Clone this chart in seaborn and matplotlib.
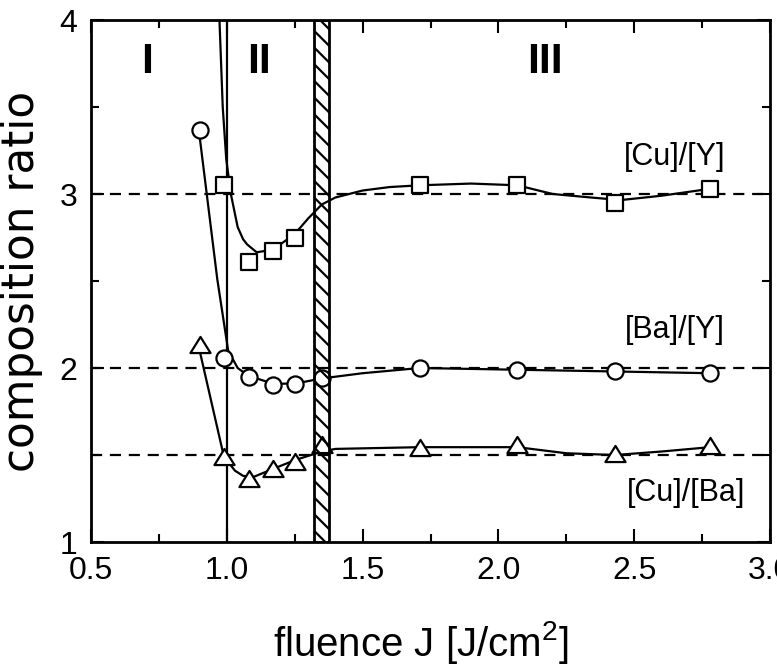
import numpy as np
import pandas as pd
import matplotlib
matplotlib.use("Agg")
import matplotlib.pyplot as plt
from matplotlib.ticker import MultipleLocator, FormatStrFormatter
from matplotlib.markers import MarkerStyle
from matplotlib.path import Path
import seaborn as sns

# ---------------- data ----------------
# measured points
cuy_x = [0.99, 1.08, 1.17, 1.25, 1.71, 2.07, 2.43, 2.78]
cuy_y = [3.05, 2.61, 2.67, 2.75, 3.05, 3.05, 2.95, 3.03]

bay_x = [0.90, 0.99, 1.08, 1.17, 1.25, 1.35, 1.71, 2.07, 2.43, 2.78]
bay_y = [3.37, 2.06, 1.95, 1.90, 1.91, 1.94, 2.00, 1.99, 1.98, 1.97]

cuba_x = [0.90, 0.99, 1.08, 1.17, 1.25, 1.35, 1.71, 2.07, 2.43, 2.78]
cuba_y = [2.13, 1.49, 1.36, 1.42, 1.46, 1.56, 1.54, 1.555, 1.505, 1.55]

# guide curves drawn through the data
cuy_fit_x = [0.973, 0.985, 0.998, 1.015, 1.04, 1.06, 1.075, 1.11, 1.17, 1.25,
             1.30, 1.35, 1.40, 1.50, 1.60, 1.71, 1.90, 2.07, 2.20, 2.34, 2.45,
             2.60, 2.78]
cuy_fit_y = [4.0, 3.5, 3.2, 3.0, 2.81, 2.74, 2.71, 2.665, 2.68, 2.77,
             2.86, 2.94, 2.98, 3.02, 3.04, 3.05, 3.06, 3.05, 3.0, 2.98, 2.965,
             2.99, 3.03]

bay_fit_x = [0.90, 0.965, 1.005, 1.04, 1.08, 1.17, 1.25, 1.35, 1.50, 1.71,
             2.07, 2.43, 2.78]
bay_fit_y = [3.33, 2.51, 2.10, 2.00, 1.955, 1.91, 1.91, 1.94, 1.97, 2.00,
             1.99, 1.98, 1.97]

cuba_fit_x = [0.90, 0.985, 1.0, 1.03, 1.06, 1.10, 1.17, 1.25, 1.35, 1.40,
              1.71, 2.07, 2.25, 2.43, 2.60, 2.78]
cuba_fit_y = [2.10, 1.52, 1.47, 1.41, 1.38, 1.375, 1.42, 1.47, 1.52, 1.535,
              1.545, 1.545, 1.51, 1.50, 1.52, 1.545]

ref_levels = [3.0, 2.0, 1.5]
region_boundary = 1.0
threshold_band = (1.321, 1.376)

region_labels = ["I", "II", "III"]
region_label_x = [0.707, 1.12, 2.17]
region_label_y = 3.76

ratio_labels = ["[Cu]/[Y]", "[Ba]/[Y]", "[Cu]/[Ba]"]
ratio_label_x = [2.65, 2.65, 2.69]
ratio_label_y = [3.21, 2.22, 1.28]

xticks = [0.5, 1.0, 1.5, 2.0, 2.5, 3.0]
yticks = [1, 2, 3, 4]

# ---------------- styling ----------------
sns.set_style("ticks")
plt.rcParams["font.family"] = ["Liberation Sans", "DejaVu Sans"]
plt.rcParams["mathtext.fontset"] = "custom"
plt.rcParams["mathtext.rm"] = "Liberation Sans"
plt.rcParams["mathtext.it"] = "Liberation Sans:italic"
plt.rcParams["mathtext.bf"] = "Liberation Sans:bold"
plt.rcParams["mathtext.default"] = "regular"
plt.rcParams["hatch.linewidth"] = 1.6
for key in ["text.color", "axes.labelcolor", "xtick.color", "ytick.color",
            "axes.edgecolor", "xtick.labelcolor", "ytick.labelcolor"]:
    plt.rcParams[key] = "black"

fig = plt.figure(figsize=(7.77, 6.70), dpi=100)
ax = fig.add_axes([91 / 777, 1 - 542 / 670, (770 - 91) / 777, (542 - 20) / 670])

df_fit = pd.concat([
    pd.DataFrame({"x": cuy_fit_x, "y": cuy_fit_y, "s": "cuy"}),
    pd.DataFrame({"x": bay_fit_x, "y": bay_fit_y, "s": "bay"}),
    pd.DataFrame({"x": cuba_fit_x, "y": cuba_fit_y, "s": "cuba"}),
])

for lv in ref_levels:
    ax.axhline(lv, color="black", lw=1.6, ls=(0, (5, 3.5)), zorder=1)

ax.axvline(region_boundary, color="black", lw=1.6, zorder=2)

for name in ["cuy", "bay", "cuba"]:
    sns.lineplot(data=df_fit[df_fit["s"] == name], x="x", y="y",
                 estimator=None, sort=False, color="black", lw=1.6,
                 ax=ax, zorder=2)

tri = MarkerStyle(Path([(-1.0, -0.75), (1.0, -0.75), (0.0, 0.85), (-1.0, -0.75)],
                       [Path.MOVETO, Path.LINETO, Path.LINETO, Path.CLOSEPOLY]))

sns.scatterplot(x=cuy_x, y=cuy_y, marker="s", s=118, color="white",
                edgecolor="black", linewidth=1.6, ax=ax, zorder=3)
sns.scatterplot(x=bay_x, y=bay_y, marker="o", s=135, color="white",
                edgecolor="black", linewidth=1.6, ax=ax, zorder=3)
sns.scatterplot(x=cuba_x, y=cuba_y, marker=tri, s=210, color="white",
                edgecolor="black", linewidth=1.6, ax=ax, zorder=3)

ax.axvspan(threshold_band[0], threshold_band[1], facecolor="none",
           edgecolor="black", hatch="\\\\", linewidth=2.0, zorder=4)

for lab, lx in zip(region_labels, region_label_x):
    ax.text(lx, region_label_y, lab, ha="center", va="center",
            fontsize=31, fontweight="bold")

for lab, lx, ly in zip(ratio_labels, ratio_label_x, ratio_label_y):
    ax.text(lx, ly, lab, ha="center", va="center", fontsize=22)

ax.set_xlim(0.5, 3.0)
ax.set_ylim(1, 4)
ax.set_xticks(xticks)
ax.set_yticks(yticks)
ax.xaxis.set_major_formatter(FormatStrFormatter("%.1f"))
ax.yaxis.set_major_formatter(FormatStrFormatter("%d"))
ax.xaxis.set_minor_locator(MultipleLocator(0.25))
ax.yaxis.set_minor_locator(MultipleLocator(0.5))
ax.tick_params(which="both", direction="in", top=True, right=True,
               width=1.5, color="black")
ax.tick_params(which="major", length=9.5)
ax.tick_params(which="minor", length=5.5)
ax.tick_params(axis="x", which="major", labelsize=23, pad=10)
ax.tick_params(axis="y", which="major", labelsize=23, pad=10)
for sp in ax.spines.values():
    sp.set_linewidth(2.0)
    sp.set_color("black")
    sp.set_zorder(5)

ax.set_xlabel("fluence J [J/cm$^2$]", fontsize=29)
ax.set_ylabel("composition ratio", fontsize=31.5, family=["DejaVu Sans"])
ax.xaxis.set_label_coords(0.486, -0.148)
ax.yaxis.set_label_coords(-0.071, 0.5)

fig.savefig("out.png", dpi=100)
